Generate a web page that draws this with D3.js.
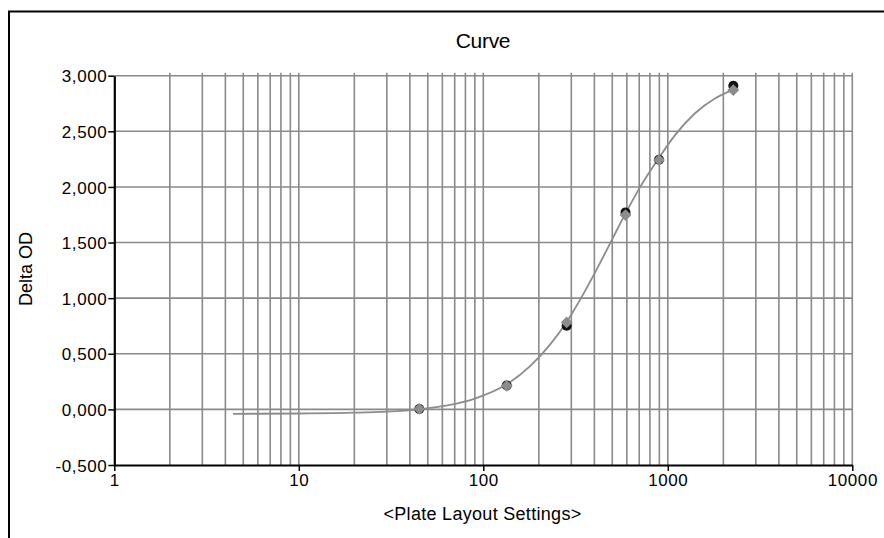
<!DOCTYPE html>
<html>
<head>
<meta charset="utf-8">
<script src="https://cdn.jsdelivr.net/npm/d3@7"></script>
<style>
  body { margin: 0; background: #fff; }
  svg { display: block; font-family: "Liberation Sans", Arial, sans-serif; }
</style>
</head>
<body>
<div id="chart"></div>
<script>
// concentrations of the standards
var conc = [45, 134, 283, 590, 896, 2265];
// replicate 1 (black) and replicate 2 (grey diamonds)
var rep1 = [0.004, 0.215, 0.752, 1.771, 2.245, 2.910];
var rep2 = [0.004, 0.212, 0.782, 1.747, 2.242, 2.871];

// fitted curve
var curveX = [4.4, 10, 20, 30, 45, 65, 90, 134, 180, 230, 283, 350, 420, 500, 587, 700, 896, 1100, 1400, 1800, 2265];
var curveY = [-0.040, -0.037, -0.030, -0.020, 0.001, 0.038, 0.097, 0.225, 0.391, 0.582, 0.785, 1.043, 1.286, 1.530, 1.755, 1.985, 2.262, 2.470, 2.660, 2.795, 2.875];

var xTicks = [1, 10, 100, 1000, 10000];
var yTicks = [-0.5, 0, 0.5, 1, 1.5, 2, 2.5, 3];

var W = 884, H = 538;
var margin = {top: 75.7, left: 114.3, right: W - 852.3, bottom: H - 465};

var x = d3.scaleLog().domain([1, 10000]).range([margin.left, W - margin.right]);
var y = d3.scaleLinear().domain([-0.5, 3]).range([H - margin.bottom, margin.top]);

var loc = d3.formatLocale({decimal: ",", thousands: ".", grouping: [3], currency: ["", ""], minus: "-"});
var fmt = loc.format(".3f");

var svg = d3.select("#chart").append("svg")
  .attr("width", W)
  .attr("height", H);

// outer frame (runs past the right and bottom edge)
svg.append("rect")
  .attr("x", 9).attr("y", 11.5)
  .attr("width", 1000).attr("height", 1000)
  .attr("fill", "none").attr("stroke", "#000").attr("stroke-width", 2);

var grid = "#8a8a8a";

// vertical grid lines at every 1..9 of each decade
var minor = [];
for (var d = 1; d < 10000; d *= 10) {
  for (var k = 1; k < 10; k++) minor.push(d * k);
}
minor.push(10000);
svg.append("g").selectAll("line")
  .data(minor.slice(1))
  .enter().append("line")
  .attr("x1", function(v) { return x(v); })
  .attr("x2", function(v) { return x(v); })
  .attr("y1", y(3) - 3)
  .attr("y2", y(-0.5))
  .attr("stroke", grid).attr("stroke-width", 1.6);

// horizontal grid lines
svg.append("g").selectAll("line")
  .data(yTicks.slice(1))
  .enter().append("line")
  .attr("x1", x(1)).attr("x2", x(10000))
  .attr("y1", function(v) { return y(v); })
  .attr("y2", function(v) { return y(v); })
  .attr("stroke", grid).attr("stroke-width", 1.6);

// axes
var yAxis = svg.append("g")
  .attr("transform", "translate(" + x(1) + ",0)")
  .call(d3.axisLeft(y).tickValues(yTicks).tickFormat(fmt).tickSize(6).tickSizeOuter(0));
var xAxis = svg.append("g")
  .attr("transform", "translate(0," + y(-0.5) + ")")
  .call(d3.axisBottom(x).tickValues(xTicks).tickFormat(d3.format("d")).tickSize(6).tickSizeOuter(0));

[xAxis, yAxis].forEach(function(a) {
  a.select(".domain").attr("stroke", "#000").attr("stroke-width", 2.2);
  a.selectAll(".tick line").attr("stroke", "#000").attr("stroke-width", 1.5);
  a.selectAll("text")
    .attr("fill", "#000")
    .style("font-size", "17px")
    .style("letter-spacing", "0.6px")
    .style("font-family", "'Liberation Sans', Arial, sans-serif");
});
yAxis.selectAll("text").attr("x", -7).attr("dy", "0.36em");
xAxis.selectAll("text").attr("y", 9).attr("dy", "0.71em");

// fitted curve
var line = d3.line()
  .x(function(d) { return x(d[0]); })
  .y(function(d) { return y(d[1]); })
  .curve(d3.curveMonotoneX);

svg.append("path")
  .datum(d3.zip(curveX, curveY))
  .attr("d", line)
  .attr("fill", "none")
  .attr("stroke", "#8c8c8c")
  .attr("stroke-width", 1.8);

// replicate points
svg.append("g").selectAll("circle")
  .data(d3.zip(conc, rep1))
  .enter().append("circle")
  .attr("cx", function(d) { return x(d[0]); })
  .attr("cy", function(d) { return y(d[1]); })
  .attr("r", 5)
  .attr("fill", "#111");

svg.append("g").selectAll("path")
  .data(d3.zip(conc, rep2))
  .enter().append("path")
  .attr("d", d3.symbol().type(d3.symbolSquare).size(70))
  .attr("transform", function(d) { return "translate(" + x(d[0]) + "," + y(d[1]) + ") rotate(45)"; })
  .attr("fill", "#8c8c8c");

// titles
svg.append("text")
  .attr("x", 483).attr("y", 47.5)
  .attr("text-anchor", "middle")
  .style("font-size", "21px")
  .style("letter-spacing", "-0.3px")
  .text("Curve");

svg.append("text")
  .attr("x", 482.5).attr("y", 520)
  .attr("text-anchor", "middle")
  .style("font-size", "18px")
  .style("letter-spacing", "0.3px")
  .text("<Plate Layout Settings>");

svg.append("text")
  .attr("transform", "translate(31.5,269) rotate(-90)")
  .attr("text-anchor", "middle")
  .style("font-size", "18px")
  .text("Delta OD");
</script>
</body>
</html>
